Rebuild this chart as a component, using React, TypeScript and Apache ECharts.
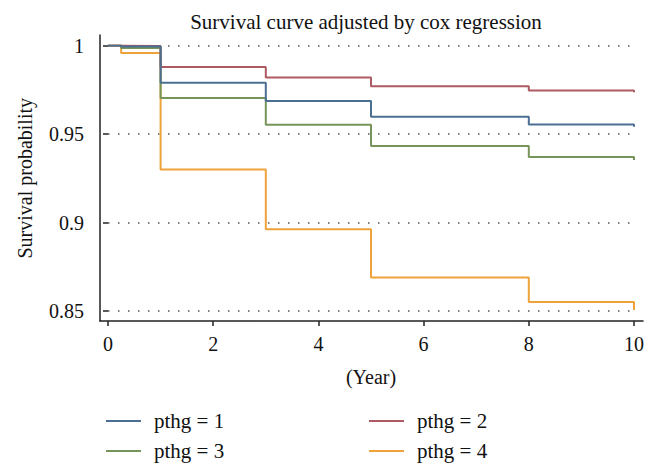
import React, { useEffect, useRef } from "react";
import * as echarts from "echarts";

const times = [0, 0.25, 1, 3, 5, 8, 10, 10];
const pthg1 = [1, 0.9995, 0.9789, 0.9686, 0.9598, 0.9554, 0.9554, 0.9541];
const pthg2 = [1, 0.9997, 0.9879, 0.9819, 0.977, 0.9746, 0.9746, 0.9736];
const pthg3 = [1, 0.9986, 0.9704, 0.9552, 0.9432, 0.937, 0.937, 0.9353];
const pthg4 = [1, 0.9958, 0.93, 0.8962, 0.8689, 0.8551, 0.8551, 0.8505];
const seriesNames = ["pthg = 1", "pthg = 2", "pthg = 3", "pthg = 4"];
const colors = ["#4a6f93", "#ad5a63", "#77955a", "#eea33a"];
const yTicks = [0.85, 0.9, 0.95, 1];
const xTicks = [0, 2, 4, 6, 8, 10];

const FONT = "'Liberation Serif', 'DejaVu Serif', serif";

export default function App() {
  const ref = useRef<HTMLDivElement>(null);
  useEffect(() => {
    if (!ref.current) return;
    const chart = echarts.init(ref.current, undefined, { renderer: "svg" });
    const all = [pthg1, pthg2, pthg3, pthg4];
    const series: any[] = all.map((vals, i) => ({
      name: seriesNames[i],
      type: "line",
      step: "end",
      xAxisIndex: 1,
      yAxisIndex: 1,
      showSymbol: false,
      symbol: "none",
      data: times.map((t, j) => [t, vals[j]]),
      lineStyle: { color: colors[i], width: 2 },
      itemStyle: { color: colors[i] },
      z: 3 + (3 - i),
    }));
    const legendCommon = {
      orient: "vertical",
      top: 405,
      itemWidth: 35,
      itemHeight: 2,
      itemGap: 8,
      icon: "rect",
      textStyle: { fontFamily: FONT, fontSize: 21, color: "#111", lineHeight: 22, padding: [0, 0, 0, 8] },
    };
    chart.setOption({
      animation: false,
      backgroundColor: "#fff",
      title: {
        text: "Survival curve adjusted by cox regression",
        left: 361,
        textAlign: "center",
        top: 6,
        textStyle: { fontFamily: FONT, fontSize: 21, fontWeight: "normal", color: "#111" },
      },
      legend: [
        { ...legendCommon, left: 101, data: [seriesNames[0], seriesNames[2]] },
        { ...legendCommon, left: 364, data: [seriesNames[1], seriesNames[3]] },
      ],
      grid: [
        { left: 100, right: 15, top: 35, bottom: 154 },
        { left: 108, right: 24, top: 45.5, bottom: 164 },
      ],
      xAxis: [
        {
          type: "value",
          gridIndex: 0,
          min: 0,
          max: 1,
          axisLine: { show: true, lineStyle: { color: "#222", width: 1.5 } },
          axisTick: { show: false },
          axisLabel: { show: false },
          splitLine: { show: false },
        },
        {
          type: "value",
          gridIndex: 1,
          min: xTicks[0],
          max: xTicks[xTicks.length - 1],
          interval: 2,
          offset: 10,
          name: "(Year)",
          nameLocation: "middle",
          nameGap: 46,
          nameTextStyle: { fontFamily: FONT, fontSize: 20, color: "#111" },
          axisLine: { show: false },
          axisTick: { show: true, length: 5, lineStyle: { color: "#222", width: 1.5 } },
          axisLabel: { fontFamily: FONT, fontSize: 20, color: "#111", margin: 13 },
          splitLine: { show: false },
        },
      ],
      yAxis: [
        {
          type: "value",
          gridIndex: 0,
          min: 0,
          max: 1,
          axisLine: { show: true, lineStyle: { color: "#222", width: 1.5 } },
          axisTick: { show: false },
          axisLabel: { show: false },
          splitLine: { show: false },
        },
        {
          type: "value",
          gridIndex: 1,
          min: yTicks[0],
          max: yTicks[yTicks.length - 1],
          interval: 0.05,
          offset: 8,
          name: "Survival probability",
          nameLocation: "middle",
          nameGap: 65,
          nameTextStyle: { fontFamily: FONT, fontSize: 20, color: "#111" },
          axisLine: { show: false },
          axisTick: { show: true, length: 5, lineStyle: { color: "#222", width: 1.5 } },
          axisLabel: { fontFamily: FONT, fontSize: 20, color: "#111", margin: 16 },
          splitLine: { show: true, lineStyle: { color: "#555", width: 1.5, type: [1.5, 8.5] } },
        },
      ],
      series,
    });
    return () => chart.dispose();
  }, []);
  return <div ref={ref} style={{ width: 658, height: 475, position: "absolute", left: 0, top: 0 }} />;
}
